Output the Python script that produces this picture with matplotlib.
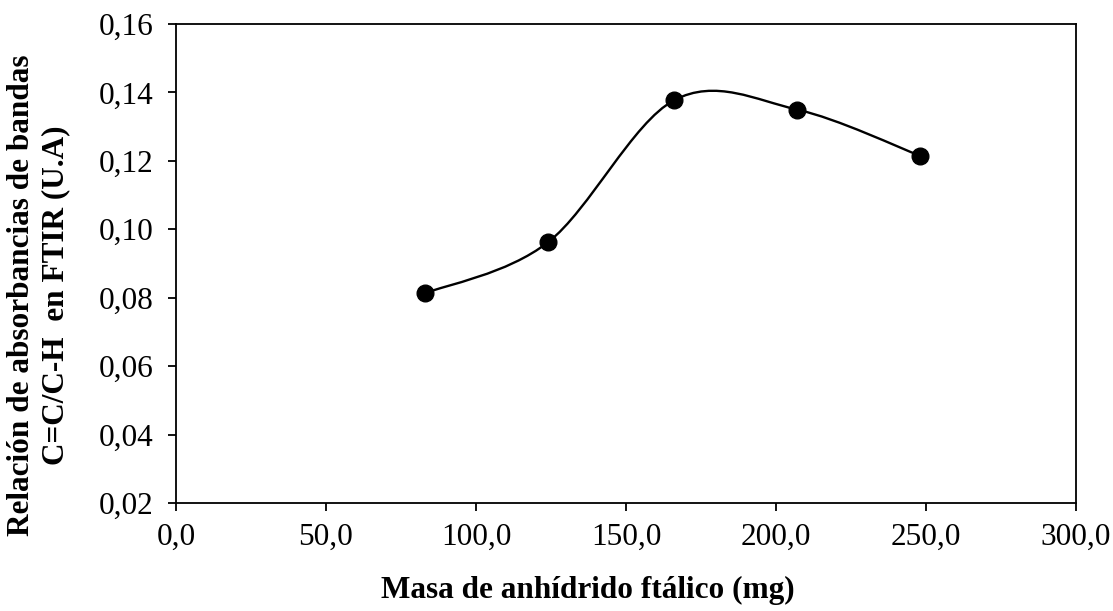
import numpy as np
import matplotlib
matplotlib.use("Agg")
import matplotlib.pyplot as plt
from matplotlib.path import Path
from matplotlib.patches import PathPatch
from matplotlib.ticker import FuncFormatter

# Phthalic anhydride mass (mg) and C=C/C-H band absorbance ratio
masa_mg = [83.0, 124.0, 166.0, 207.0, 248.0]
relacion = [0.0813, 0.0962, 0.1377, 0.1350, 0.1215]

x_ticks = [0, 50, 100, 150, 200, 250, 300]
y_ticks = [0.02, 0.04, 0.06, 0.08, 0.10, 0.12, 0.14, 0.16]

plt.rcParams["font.family"] = ["Liberation Serif", "DejaVu Serif"]

fig = plt.figure(figsize=(11.13, 6.11), dpi=100)
ax = fig.add_axes([176 / 1113, 1 - 503 / 611, 900 / 1113, 479 / 611])


def smooth_path(xs, ys):
    """Cubic Bezier smoothing through the points (Catmull-Rom style)."""
    pts = np.column_stack([xs, ys])
    n = len(pts)
    verts = [pts[0]]
    codes = [Path.MOVETO]
    for i in range(n - 1):
        p0 = pts[i - 1] if i > 0 else pts[i]
        p1 = pts[i]
        p2 = pts[i + 1]
        p3 = pts[i + 2] if i + 2 < n else pts[i + 1]
        c1 = p1 + (p2 - p0) / 6.0
        c2 = p2 - (p3 - p1) / 6.0
        verts += [c1, c2, p2]
        codes += [Path.CURVE4] * 3
    return Path(verts, codes)


ax.add_patch(PathPatch(smooth_path(masa_mg, relacion), facecolor="none",
                       edgecolor="black", lw=1.7, zorder=2))
ax.plot(masa_mg, relacion, linestyle="none", marker="o", markersize=12,
        color="black", zorder=3)

ax.set_xlim(x_ticks[0], x_ticks[-1])
ax.set_ylim(y_ticks[0], y_ticks[-1])
ax.set_xticks(x_ticks)
ax.set_yticks(y_ticks)
ax.xaxis.set_major_formatter(FuncFormatter(lambda v, p: f"{v:.1f}".replace(".", ",")))
ax.yaxis.set_major_formatter(FuncFormatter(lambda v, p: f"{v:.2f}".replace(".", ",")))
ax.tick_params(axis="both", direction="out", length=6, width=1.3,
               labelsize=22.5, colors="black")
ax.tick_params(axis="x", pad=8)
ax.tick_params(axis="y", pad=10)
for s in ax.spines.values():
    s.set_linewidth(1.3)
    s.set_color("black")

ax.set_xlabel("Masa de anhídrido ftálico (mg)", fontsize=22.5, fontweight="bold")
ax.xaxis.set_label_coords(0.458, -0.152)
ax.set_ylabel("Relación de absorbancias de bandas\nC=C/C-H  en FTIR (U.A)",
              fontsize=22.5, fontweight="bold", linespacing=1.22)
ax.yaxis.set_label_coords(-0.118, 0.434)

fig.savefig("out.png", dpi=100, facecolor="white")
